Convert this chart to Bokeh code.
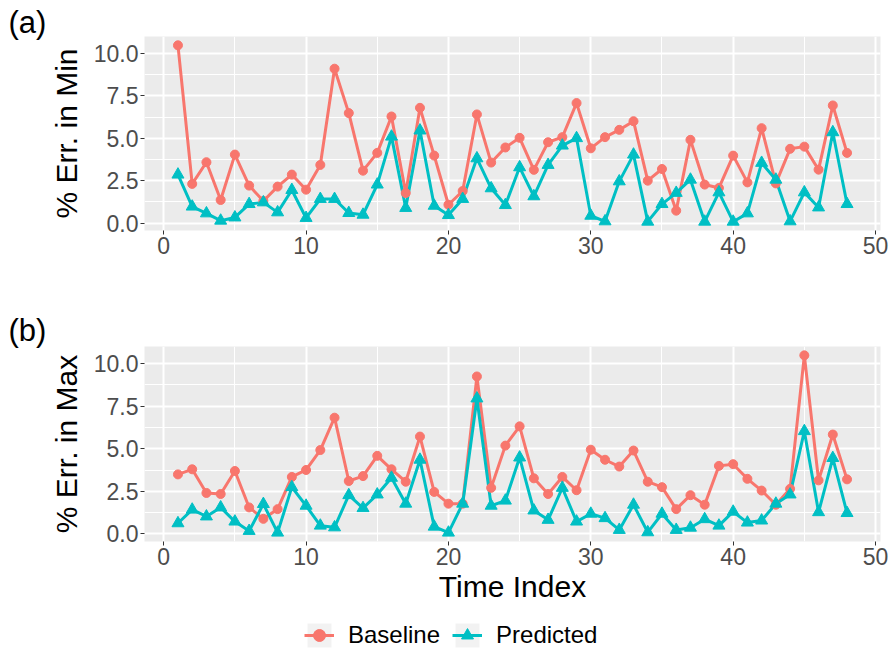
from bokeh.plotting import figure
from bokeh.models import (Range1d, FixedTicker, PrintfTickFormatter, Legend,
                          LegendItem, ColumnDataSource)
from bokeh.layouts import column
from bokeh.embed import file_html
from bokeh.resources import INLINE

time_index = list(range(1, 49))

min_baseline = [10.49, 2.31, 3.59, 1.36, 4.04, 2.21, 1.30, 2.15, 2.86, 1.97,
                3.43, 9.11, 6.49, 3.09, 4.14, 6.29, 1.77, 6.80, 3.98, 1.08,
                1.89, 6.41, 3.57, 4.46, 5.03, 3.14, 4.77, 5.07, 7.08, 4.41,
                5.07, 5.50, 6.01, 2.50, 3.19, 0.73, 4.91, 2.27, 2.07, 3.98,
                2.40, 5.60, 2.34, 4.38, 4.51, 3.15, 6.94, 4.14]
min_predicted = [2.86, 0.97, 0.57, 0.14, 0.33, 1.12, 1.22, 0.63, 1.95, 0.30,
                 1.42, 1.42, 0.59, 0.49, 2.27, 5.10, 0.89, 5.46, 1.02, 0.47,
                 1.42, 3.82, 2.05, 1.06, 3.29, 1.58, 3.43, 4.57, 5.01, 0.43,
                 0.10, 2.46, 4.04, 0.08, 1.12, 1.78, 2.56, 0.08, 1.81, 0.08,
                 0.57, 3.55, 2.56, 0.10, 1.81, 0.92, 5.36, 1.12]
max_baseline = [3.50, 3.80, 2.41, 2.35, 3.70, 1.56, 0.89, 1.46, 3.35, 3.76,
                4.93, 6.83, 3.11, 3.40, 4.59, 3.80, 3.07, 5.72, 2.47, 1.78,
                1.78, 9.25, 2.71, 5.19, 6.32, 3.27, 2.35, 3.35, 2.57, 4.95,
                4.36, 3.96, 4.90, 3.07, 2.75, 1.46, 2.28, 1.72, 4.00, 4.10,
                3.24, 2.55, 1.72, 2.65, 10.49, 3.15, 5.84, 3.21]
max_predicted = [0.63, 1.43, 1.03, 1.56, 0.73, 0.18, 1.76, 0.08, 2.75, 1.66,
                 0.49, 0.39, 2.28, 1.52, 2.32, 3.30, 1.78, 4.36, 0.43, 0.08,
                 1.78, 7.96, 1.66, 1.96, 4.49, 1.38, 0.83, 2.71, 0.73, 1.19,
                 0.93, 0.24, 1.72, 0.10, 1.19, 0.24, 0.37, 0.87, 0.49, 1.31,
                 0.67, 0.79, 1.78, 2.32, 6.04, 1.28, 4.46, 1.23]

x_major = [0, 10, 20, 30, 40, 50]
x_minor = [5, 15, 25, 35, 45]
y_major = [0, 2.5, 5, 7.5, 10]
y_minor = [1.25, 3.75, 6.25, 8.75]

series_names = ["Baseline", "Predicted"]
series_colors = ["#F8766D", "#00BFC4"]
series_markers = ["circle", "triangle"]
series_sizes = [9, 12]

FONT = "Liberation Sans"
W = 890


def expand(lo, hi, f=0.05):
    span = hi - lo
    return lo - f * span, hi + f * span


def make_panel(tag, tag_standoff, ylabel, ys, height, top, bottom, xlabel=None):
    xlo, xhi = expand(min(time_index), max(time_index))
    allv = ys[0] + ys[1]
    ylo, yhi = expand(min(allv), max(allv))
    p = figure(width=W, height=height, output_backend="svg", toolbar_location=None,
               x_range=Range1d(xlo, xhi), y_range=Range1d(ylo, yhi),
               min_border_left=144, min_border_right=W - 880,
               min_border_top=top, min_border_bottom=bottom)
    p.background_fill_color = "#EBEBEB"
    p.border_fill_color = "white"
    p.outline_line_color = None

    p.title.text = tag
    p.title.align = "left"
    p.title.offset = -136
    p.title.standoff = tag_standoff
    p.title.text_font = FONT
    p.title.text_font_size = "31px"
    p.title.text_font_style = "normal"
    p.title.text_color = "black"

    p.xaxis.ticker = FixedTicker(ticks=x_major, minor_ticks=x_minor)
    p.yaxis.ticker = FixedTicker(ticks=y_major, minor_ticks=y_minor)
    p.xaxis.formatter = PrintfTickFormatter(format="%d")
    p.yaxis.formatter = PrintfTickFormatter(format="%.1f")
    for ax in (p.xaxis, p.yaxis):
        ax.axis_line_color = None
        ax.major_tick_line_color = "#333333"
        ax.major_tick_line_width = 1
        ax.major_tick_out = 4
        ax.major_tick_in = 0
        ax.minor_tick_line_color = None
        ax.major_label_text_font = FONT
        ax.major_label_text_font_size = "23px"
        ax.major_label_text_color = "#4D4D4D"
        ax.major_label_standoff = 2
        ax.axis_label_text_font = FONT
        ax.axis_label_text_font_size = "30px"
        ax.axis_label_text_font_style = "normal"
        ax.axis_label_text_color = "black"
    p.yaxis.axis_label = ylabel
    p.yaxis.axis_label_standoff = 8
    if xlabel:
        p.xaxis.axis_label = xlabel
        p.xaxis.axis_label_standoff = 2

    p.grid.grid_line_color = "white"
    p.grid.grid_line_width = 2
    p.grid.minor_grid_line_color = "white"
    p.grid.minor_grid_line_width = 1

    for color, y in zip(series_colors, ys):
        src = ColumnDataSource(dict(x=time_index, y=y))
        p.line("x", "y", source=src, line_color=color, line_width=3)
    for color, marker, size, y in zip(series_colors, series_markers, series_sizes, ys):
        src = ColumnDataSource(dict(x=time_index, y=y))
        p.scatter("x", "y", source=src, marker=marker, size=size,
                  fill_color=color, line_color=color)
    return p


pa = make_panel("(a)", -6, "% Err. in Min", [min_baseline, min_predicted],
                272, 36, 42)
pb = make_panel("(b)", -3, "% Err. in Max", [max_baseline, max_predicted],
                338, 74, 69, xlabel="Time Index")

# legend strip: the series are drawn again outside of its (empty) view,
# only so that the legend has glyphs to show
pl = figure(width=W, height=44, output_backend="svg", toolbar_location=None,
            x_range=Range1d(-1000, -999), y_range=Range1d(-1000, -999),
            x_axis_location=None, y_axis_location=None,
            min_border_left=144, min_border_right=W - 880,
            min_border_top=0, min_border_bottom=0)
pl.outline_line_color = None
pl.grid.visible = False
pl.background_fill_color = "white"
items = []
for name, color, marker, size, y in zip(series_names, series_colors,
                                        series_markers, series_sizes,
                                        [max_baseline, max_predicted]):
    src = ColumnDataSource(dict(x=time_index, y=y))
    k = pl.quad(left="x", right="x", top="y", bottom="y", source=src,
                fill_color="#F2F2F2", line_color=None)
    ln = pl.line("x", "y", source=src, line_color=color, line_width=3)
    sc = pl.scatter("x", "y", source=src, marker=marker, size=size,
                    fill_color=color, line_color=color)
    items.append(LegendItem(label=name, renderers=[k, ln, sc]))
legend = Legend(items=items, orientation="horizontal", location=(160, 4),
                glyph_width=30, glyph_height=30, label_standoff=14, spacing=12,
                padding=0, margin=0, border_line_color=None,
                background_fill_alpha=0,
                label_text_font=FONT, label_text_font_size="24px",
                label_text_color="black")
pl.add_layout(legend, "center")

layout = column(pa, pb, pl, spacing=0)
open("out.html", "w").write(file_html(layout, INLINE))
